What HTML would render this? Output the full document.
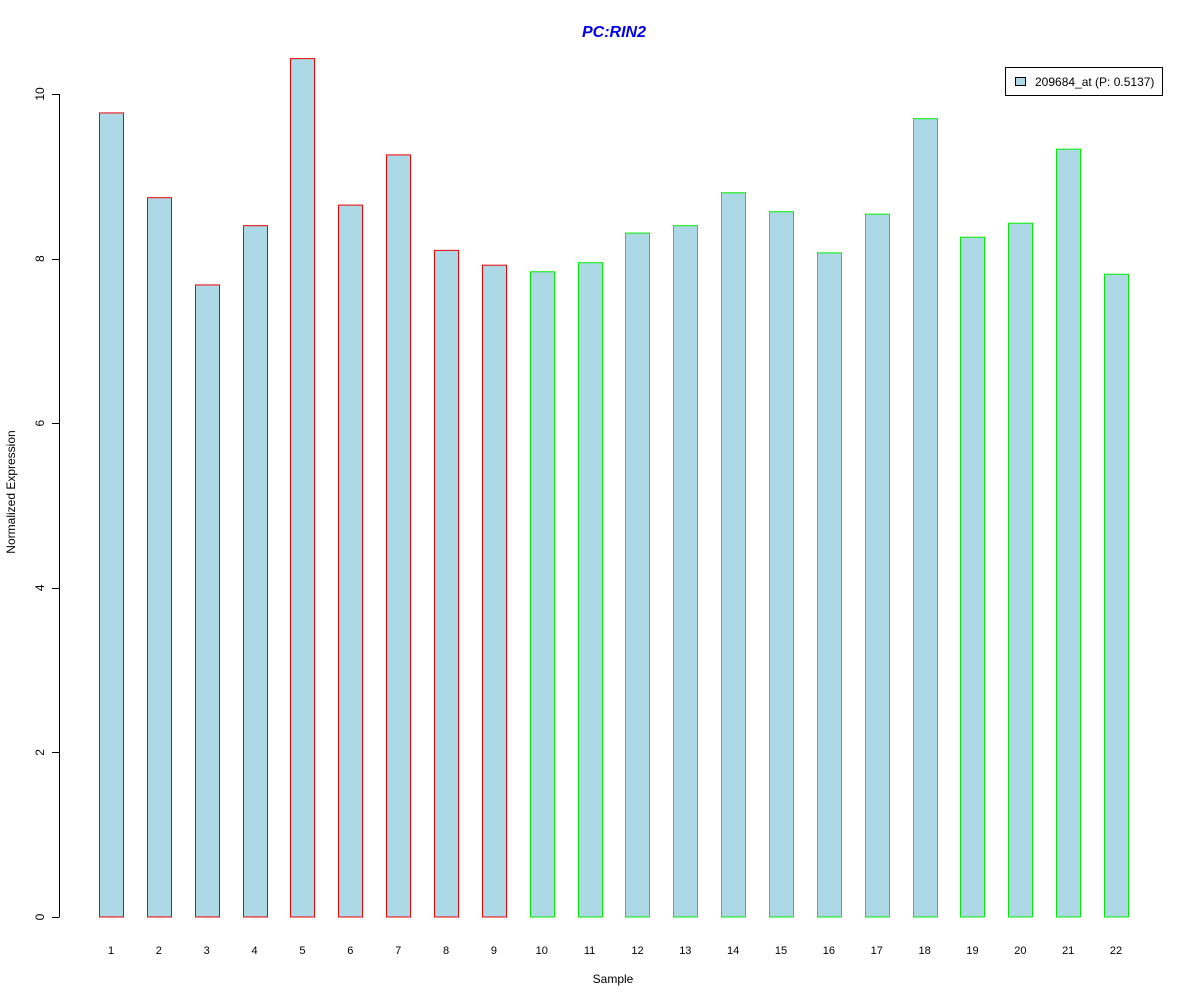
<!DOCTYPE html>
<html><head><meta charset="utf-8"><style>body{margin:0;background:#fff}svg{display:block;font-family:"Liberation Sans",sans-serif}</style></head>
<body>
<svg width="1200" height="1000" viewBox="0 0 1200 1000">
<text x="614" y="37" text-anchor="middle" font-size="16" font-weight="bold" font-style="italic" fill="#0000ee">PC:RIN2</text>
<g id="yaxis"></g>
<g id="bars"></g>
<g id="xlabels"></g>
<text x="613" y="983" text-anchor="middle" font-size="12">Sample</text>
<text transform="translate(15,492) rotate(-90)" text-anchor="middle" font-size="12">Normalized Expression</text>
<g>
<rect x="1005.5" y="67.5" width="157" height="28" fill="#fff" stroke="#000"/>
<rect x="1015.5" y="77.5" width="10" height="8" fill="#add8e6" stroke="#000"/>
<text x="1035" y="86" font-size="12">209684_at (P: 0.5137)</text>
</g>
</svg>
<script>
const categories=["1","2","3","4","5","6","7","8","9","10","11","12","13","14","15","16","17","18","19","20","21","22"];
const values=[9.77,8.74,7.68,8.40,10.43,8.65,9.26,8.10,7.92,7.84,7.95,8.31,8.40,8.80,8.57,8.07,8.54,9.70,8.26,8.43,9.33,7.81];
const groups=["a","a","a","a","a","a","a","a","a","b","b","b","b","b","b","b","b","b","b","b","b","b"];
const yTicks=[0,2,4,6,8,10];
const NS="http://www.w3.org/2000/svg";
const y=v=>917-v*82.3;
const x=i=>111+i*47.86;
const ya=document.getElementById('yaxis');
function mk(t,a,p){const e=document.createElementNS(NS,t);for(const k in a)e.setAttribute(k,a[k]);p.appendChild(e);return e;}
mk('line',{x1:59.5,x2:59.5,y1:y(0),y2:y(10),stroke:'#000'},ya);
yTicks.forEach(t=>{
 mk('line',{x1:52,x2:59.5,y1:Math.round(y(t))+0.5,y2:Math.round(y(t))+0.5,stroke:'#000'},ya);
 const tx=mk('text',{transform:`translate(44,${y(t)}) rotate(-90)`,'text-anchor':'middle','font-size':12},ya);
 tx.textContent=t;
 
 
});
const bg=document.getElementById('bars'),xl=document.getElementById('xlabels');
values.forEach((v,i)=>{
 const r=mk('rect',{x:Math.round(x(i)-12)+0.5,y:y(v),width:24,height:y(0)-y(v),fill:'#add8e6',stroke:groups[i]==='a'?'#ee0000':'#00ee00'},bg);
 
 
 const t=mk('text',{x:x(i),y:954,'text-anchor':'middle','font-size':11},xl);
 t.textContent=categories[i];
 
 
});
</script>
</body></html>
